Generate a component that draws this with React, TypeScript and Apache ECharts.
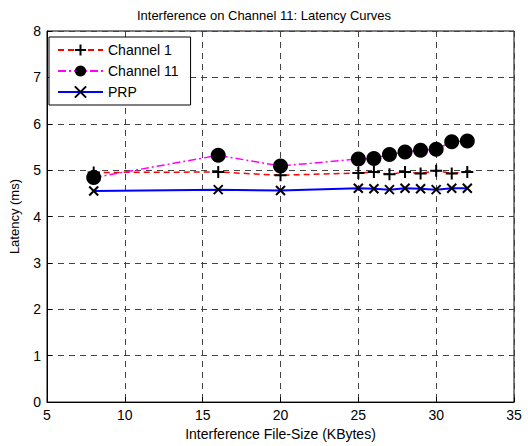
import React, { useEffect, useRef } from "react";
import * as echarts from "echarts";

const fileSizes = [8, 16, 20, 25, 26, 27, 28, 29, 30, 31, 32];
const channel1 = [4.95, 4.96, 4.89, 4.94, 4.96, 4.91, 4.96, 4.93, 4.99, 4.93, 4.96];
const channel11 = [4.84, 5.32, 5.09, 5.24, 5.25, 5.34, 5.39, 5.43, 5.45, 5.61, 5.63];
const prp = [4.55, 4.58, 4.56, 4.61, 4.6, 4.58, 4.61, 4.6, 4.58, 4.61, 4.61];

const FONT = "Liberation Sans";
const PLUS = "path://M0,5L10,5M5,0L5,10";
const CROSS = "path://M0,0L10,10M0,10L10,0";

export default function App() {
  const ref = useRef<HTMLDivElement>(null);
  useEffect(() => {
    if (!ref.current) return;
    const chart = echarts.init(ref.current, null, { renderer: "svg" });
    const pair = (ys: number[]) => fileSizes.map((x, i) => [x, ys[i]]);
    chart.setOption({
      animation: false,
      backgroundColor: "#fff",
      title: {
        text: "Interference on Channel 11: Latency Curves",
        left: "center",
        top: 4,
        textStyle: { fontFamily: FONT, fontSize: 13, fontWeight: "normal", color: "#000" },
      },
      legend: {
        orient: "vertical",
        left: 49,
        top: 37,
        itemWidth: 45,
        itemHeight: 14,
        itemGap: 7,
        padding: [6, 12, 6, 8],
        borderColor: "#000",
        borderWidth: 1,
        backgroundColor: "#fff",
        textStyle: { fontFamily: FONT, fontSize: 14, color: "#000" },
        data: ["Channel 1", "Channel 11", "PRP"],
      },
      grid: {
        left: 43,
        right: 14,
        top: 31,
        bottom: 42,
        show: true,
        borderColor: "#000",
        borderWidth: 1,
        backgroundColor: "#fff",
      },
      xAxis: {
        type: "value",
        min: 5,
        max: 35,
        interval: 5,
        name: "Interference File-Size (KBytes)",
        nameLocation: "middle",
        nameGap: 24,
        nameTextStyle: { fontFamily: FONT, fontSize: 14, color: "#000" },
        axisLine: { lineStyle: { color: "#000" } },
        axisTick: { inside: true, length: 5, lineStyle: { color: "#000" } },
        axisLabel: { fontFamily: FONT, fontSize: 14, color: "#000", margin: 6 },
        splitLine: { show: true, lineStyle: { color: "#444", type: [6, 5], width: 1 } },
      },
      yAxis: {
        type: "value",
        min: 0,
        max: 8,
        interval: 1,
        name: "Latency (ms)",
        nameLocation: "middle",
        nameGap: 26,
        nameTextStyle: { fontFamily: FONT, fontSize: 13, color: "#000" },
        axisLine: { show: true, lineStyle: { color: "#000" } },
        axisTick: { show: true, inside: true, length: 5, lineStyle: { color: "#000" } },
        axisLabel: { fontFamily: FONT, fontSize: 14, color: "#000", margin: 6 },
        splitLine: { show: true, lineStyle: { color: "#444", type: [6, 5], width: 1 } },
      },
      series: [
        {
          name: "Channel 1",
          type: "line",
          data: pair(channel1),
          symbol: PLUS,
          symbolSize: 12,
          itemStyle: { color: "#000", borderColor: "#000", borderWidth: 2 },
          lineStyle: { color: "#ff0000", type: [6, 4], width: 1.5 },
        },
        {
          name: "Channel 11",
          type: "line",
          data: pair(channel11),
          symbol: "circle",
          symbolSize: 15,
          itemStyle: { color: "#000", borderColor: "#000", borderWidth: 0 },
          lineStyle: { color: "#ff00ff", type: [8, 3, 2, 3], width: 1.5 },
        },
        {
          name: "PRP",
          type: "line",
          data: pair(prp),
          symbol: CROSS,
          symbolSize: 9,
          itemStyle: { color: "#000", borderColor: "#000", borderWidth: 2 },
          lineStyle: { color: "#0000ff", width: 2 },
        },
      ],
    });
    return () => chart.dispose();
  }, []);
  return <div ref={ref} style={{ width: 528, height: 446, position: "absolute", left: 0, top: 0 }} />;
}
